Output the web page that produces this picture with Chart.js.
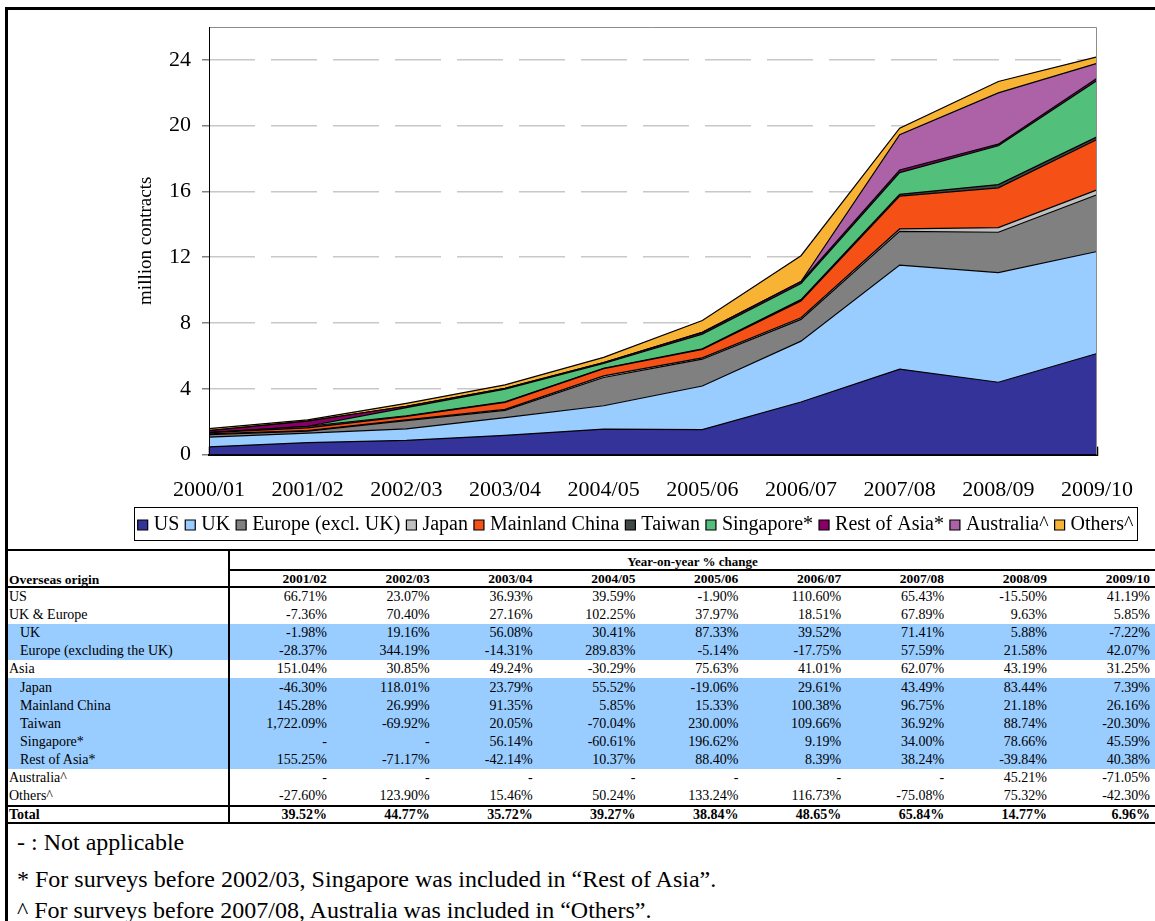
<!DOCTYPE html>
<html>
<head>
<meta charset="utf-8">
<script src="https://cdn.jsdelivr.net/npm/chart.js@4.4.1/dist/chart.umd.min.js"></script>
<style>
  html, body { margin: 0; padding: 0; background: #fff; }
  body { width: 1155px; height: 921px; position: relative; overflow: hidden; font-family: 'Liberation Serif', 'Times New Roman', serif; color: #000; }
  #frame { position: absolute; left: 5px; top: 7px; width: 1170px; height: 940px; border-left: 3px solid #000; border-top: 3px solid #000; }
  #chartBox { position: absolute; left: 0; top: 0; width: 1155px; height: 546px; }
  #yoy { position: absolute; left: 8px; top: 549px; width: 1147px; border-collapse: collapse; table-layout: fixed; font-size: 14px; line-height: 1; }
  #yoy td { padding: 0 5px 0 0; height: 18.1px; text-align: right; white-space: nowrap; overflow: hidden; }
  #yoy td.origin { text-align: left; padding: 0 0 0 1px; border-right: 2px solid #000; }
  #yoy td.indent { padding-left: 12px; }
  #yoy tr.blue td { background: #99ccff; }
  #yoy tr.top td { border-top: 2px solid #000; height: 16px; }
  #yoy tr.top td.title { border-bottom: 2px solid #000; text-align: center; font-weight: bold; font-size: 13px; padding: 2px 0 0 0; }
  #yoy tr.head td { font-weight: bold; font-size: 13.5px; height: 15px; border-bottom: 2px solid #000; }
  #yoy tr.total td { font-weight: bold; border-top: 2px solid #000; border-bottom: 2px solid #000; height: 15px; }
  .note { position: absolute; left: 17px; font-size: 24px; line-height: 26px; white-space: nowrap; }
</style>
</head>
<body>
<div id="frame"></div>
<div id="chartBox"><canvas id="overseasChart"></canvas></div>
<table id="yoy"></table>
<div class="note" style="top:829px">- : Not applicable</div>
<div class="note" style="top:866px">* For surveys before 2002/03, Singapore was included in &ldquo;Rest of Asia&rdquo;.</div>
<div class="note" style="top:897px">^ For surveys before 2007/08, Australia was included in &ldquo;Others&rdquo;.</div>
<script>
// chart data (million contracts)
const years = ['2000/01', '2001/02', '2002/03', '2003/04', '2004/05', '2005/06', '2006/07', '2007/08', '2008/09', '2009/10'];
const us = [0.47, 0.73, 0.87, 1.17, 1.55, 1.52, 3.2, 5.2, 4.4, 6.15];
const uk = [0.59, 0.58, 0.69, 1.08, 1.42, 2.65, 3.7, 6.32, 6.67, 6.2];
const europe = [0.16, 0.12, 0.5, 0.44, 1.72, 1.63, 1.32, 2.05, 2.45, 3.45];
const japan = [0.045, 0.025, 0.05, 0.065, 0.1, 0.08, 0.105, 0.15, 0.28, 0.3];
const mainlandChina = [0.07, 0.17, 0.22, 0.42, 0.44, 0.51, 1.02, 2.0, 2.42, 3.06];
const taiwan = [0.006, 0.1, 0.031, 0.037, 0.011, 0.037, 0.077, 0.106, 0.2, 0.16];
const singapore = [0, 0, 0.49, 0.77, 0.3, 0.9, 0.985, 1.32, 2.36, 3.43];
const restOfAsia = [0.12, 0.31, 0.089, 0.052, 0.057, 0.107, 0.116, 0.16, 0.096, 0.135];
const australia = [0, 0, 0, 0, 0, 0, 0, 2.15, 3.12, 0.9];
const others = [0.12, 0.08, 0.18, 0.21, 0.31, 0.72, 1.57, 0.39, 0.69, 0.4];

const seriesNames = ['US', 'UK', 'Europe (excl. UK)', 'Japan', 'Mainland China', 'Taiwan', 'Singapore*', 'Rest of Asia*', 'Australia^', 'Others^'];
const seriesData = [us, uk, europe, japan, mainlandChina, taiwan, singapore, restOfAsia, australia, others];
const seriesColors = ['#333399', '#99ccff', '#808080', '#c0c0c0', '#f55016', '#3f4844', '#52bf7a', '#880066', '#ad62a8', '#f8b334'];
const yTicks = [0, 4, 8, 12, 16, 20, 24];

// table data (year-on-year % change)
const tableYears = ['2001/02', '2002/03', '2003/04', '2004/05', '2005/06', '2006/07', '2007/08', '2008/09', '2009/10'];
const origins = ['US', 'UK & Europe', 'UK', 'Europe (excluding the UK)', 'Asia', 'Japan', 'Mainland China', 'Taiwan', 'Singapore*', 'Rest of Asia*', 'Australia^', 'Others^'];
const subRows = [false, false, true, true, false, true, true, true, true, true, false, false];
const yoyUS = ['66.71%', '23.07%', '36.93%', '39.59%', '-1.90%', '110.60%', '65.43%', '-15.50%', '41.19%'];
const yoyUKEurope = ['-7.36%', '70.40%', '27.16%', '102.25%', '37.97%', '18.51%', '67.89%', '9.63%', '5.85%'];
const yoyUK = ['-1.98%', '19.16%', '56.08%', '30.41%', '87.33%', '39.52%', '71.41%', '5.88%', '-7.22%'];
const yoyEurope = ['-28.37%', '344.19%', '-14.31%', '289.83%', '-5.14%', '-17.75%', '57.59%', '21.58%', '42.07%'];
const yoyAsia = ['151.04%', '30.85%', '49.24%', '-30.29%', '75.63%', '41.01%', '62.07%', '43.19%', '31.25%'];
const yoyJapan = ['-46.30%', '118.01%', '23.79%', '55.52%', '-19.06%', '29.61%', '43.49%', '83.44%', '7.39%'];
const yoyChina = ['145.28%', '26.99%', '91.35%', '5.85%', '15.33%', '100.38%', '96.75%', '21.18%', '26.16%'];
const yoyTaiwan = ['1,722.09%', '-69.92%', '20.05%', '-70.04%', '230.00%', '109.66%', '36.92%', '88.74%', '-20.30%'];
const yoySingapore = ['-', '-', '56.14%', '-60.61%', '196.62%', '9.19%', '34.00%', '78.66%', '45.59%'];
const yoyRestOfAsia = ['155.25%', '-71.17%', '-42.14%', '10.37%', '88.40%', '8.39%', '38.24%', '-39.84%', '40.38%'];
const yoyAustralia = ['-', '-', '-', '-', '-', '-', '-', '45.21%', '-71.05%'];
const yoyOthers = ['-27.60%', '123.90%', '15.46%', '50.24%', '133.24%', '116.73%', '-75.08%', '75.32%', '-42.30%'];
const yoyTotal = ['39.52%', '44.77%', '35.72%', '39.27%', '38.84%', '48.65%', '65.84%', '14.77%', '6.96%'];
const yoyRows = [yoyUS, yoyUKEurope, yoyUK, yoyEurope, yoyAsia, yoyJapan, yoyChina, yoyTaiwan, yoySingapore, yoyRestOfAsia, yoyAustralia, yoyOthers];

// build the table
(function () {
    const t = document.getElementById('yoy');
    let html = '<colgroup><col style="width:221px">' + tableYears.map(() => '<col>').join('') + '</colgroup>';
    html += '<tr class="top"><td class="origin" rowspan="2" style="vertical-align:bottom;border-bottom:2px solid #000;font-weight:bold;font-size:13.5px">Overseas origin</td>' +
        '<td class="title" colspan="' + tableYears.length + '">Year-on-year % change</td></tr>';
    html += '<tr class="head">' + tableYears.map(y => '<td>' + y + '</td>').join('') + '</tr>';
    origins.forEach((name, i) => {
        html += '<tr' + (subRows[i] ? ' class="blue"' : '') + '><td class="origin' + (subRows[i] ? ' indent' : '') + '">' + name + '</td>' +
            yoyRows[i].map(v => '<td>' + v + '</td>').join('') + '</tr>';
    });
    html += '<tr class="total"><td class="origin">Total</td>' + yoyTotal.map(v => '<td>' + v + '</td>').join('') + '</tr>';
    t.innerHTML = html;
})();

const serif = 'Liberation Serif';

const plotFrame = {
    id: 'plotFrame',
    afterDatasetsDraw(chart) {
        const { ctx, chartArea: a } = chart;
        ctx.save();
        ctx.lineWidth = 1;
        ctx.strokeStyle = '#8c8c8c';
        ctx.beginPath();
        ctx.moveTo(a.left, a.top + 0.5);
        ctx.lineTo(a.right - 0.5, a.top + 0.5);
        ctx.lineTo(a.right - 0.5, a.bottom);
        ctx.stroke();
        ctx.strokeStyle = '#000';
        ctx.beginPath();
        ctx.moveTo(a.left + 0.5, a.top);
        ctx.lineTo(a.left + 0.5, a.bottom);
        ctx.stroke();
        ctx.restore();
    }
};

const legendBox = {
    id: 'legendBox',
    afterDraw(chart) {
        const boxes = chart.legend && chart.legend.legendHitBoxes;
        if (!boxes || !boxes.length) return;
        let l = Infinity, r = -Infinity, t = Infinity, b = -Infinity;
        boxes.forEach(h => {
            l = Math.min(l, h.left); r = Math.max(r, h.left + h.width);
            t = Math.min(t, h.top); b = Math.max(b, h.top + h.height);
        });
        const ctx = chart.ctx;
        ctx.save();
        ctx.strokeStyle = '#000';
        ctx.lineWidth = 1;
        ctx.strokeRect(Math.round(l - 8) + 0.5, Math.round(t - 8) + 0.5, Math.round(r - l + 11), Math.round(b - t + 13));
        ctx.restore();
    }
};

new Chart(document.getElementById('overseasChart'), {
    type: 'line',
    data: {
        labels: years,
        datasets: seriesNames.map((name, i) => ({
            label: name,
            data: seriesData[i],
            backgroundColor: seriesColors[i],
            borderColor: '#000',
            borderWidth: 1.2,
            fill: i === 0 ? 'origin' : '-1',
            pointRadius: 0,
            tension: 0
        }))
    },
    options: {
        responsive: true,
        maintainAspectRatio: false,
        animation: false,
        layout: { padding: { left: 120, right: 0, top: 27, bottom: 1 } },
        plugins: {
            legend: {
                position: 'bottom',
                labels: {
                    usePointStyle: true,
                    pointStyle: 'rect',
                    boxWidth: 2,
                    boxHeight: 10,
                    padding: 10,
                    color: '#000',
                    font: { family: serif, size: 20 }
                }
            },
            tooltip: { enabled: false }
        },
        scales: {
            x: {
                z: 1,
                afterFit: s => { s.height -= 28; s.paddingLeft = 0; s.paddingRight = 0; },
                grid: { drawOnChartArea: false, tickLength: -8, tickColor: '#000', tickWidth: 1.5 },
                border: { color: '#000', width: 2 },
                ticks: { color: '#000', padding: 30, maxRotation: 0, autoSkip: false, font: { family: serif, size: 22 } }
            },
            y: {
                stacked: true,
                min: 0,
                max: 26,
                afterBuildTicks: s => { s.ticks = yTicks.map(v => ({ value: v })); },
                afterFit: s => { s.width = 89; },
                ticks: { color: '#000', padding: 11, font: { family: serif, size: 22 } },
                grid: { color: '#c8c8c8', lineWidth: 1.5, tickLength: 7, tickColor: '#808080', tickWidth: 1.5 },
                border: { display: false, dash: [46, 16] },
                title: { display: true, text: 'million contracts', color: '#000', padding: { top: 15, bottom: 0 }, font: { family: serif, size: 19 } }
            },
            y2: {
                position: 'right',
                grid: { display: false },
                ticks: { display: false },
                border: { display: false },
                afterFit: s => { s.width = 58; }
            }
        }
    },
    plugins: [plotFrame, legendBox]
});
</script>
</body>
</html>
